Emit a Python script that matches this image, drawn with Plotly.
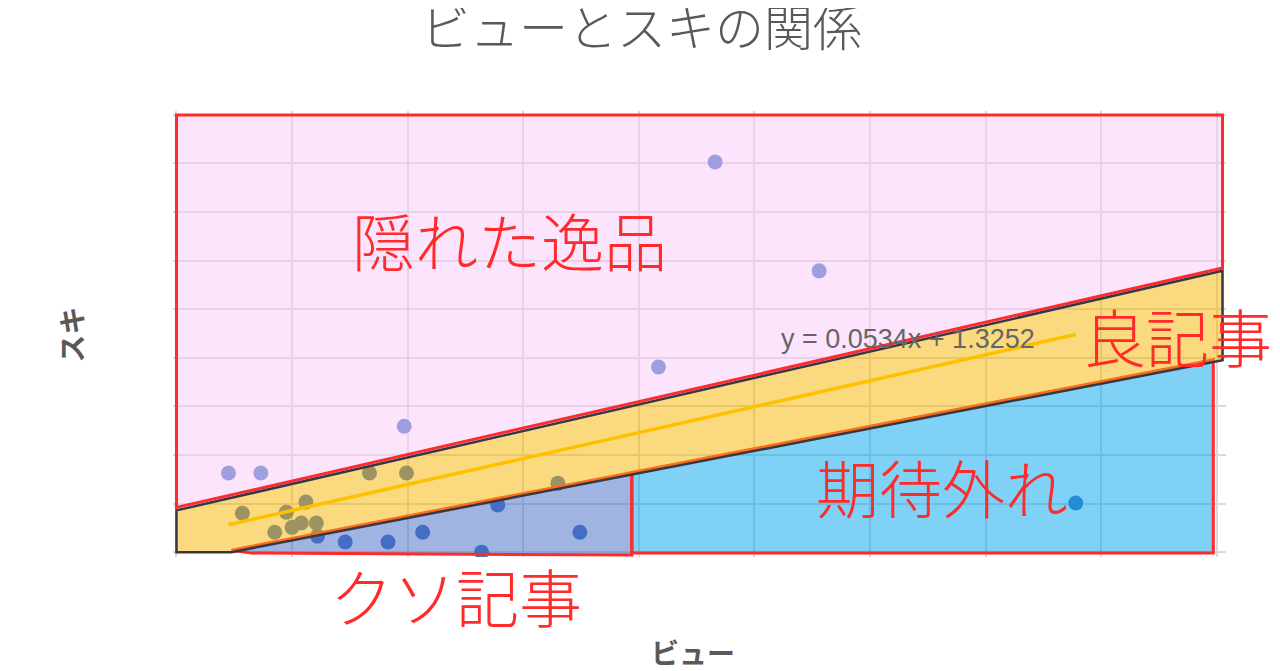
import numpy as np
import plotly.graph_objects as go

# scatter: views vs likes
VIEWS = [46.6, 55.6, 41.7, 19.7, 4.5, 7.3, 16.7, 19.9, 33.0, 5.7, 11.2, 9.5,
         10.8, 12.1, 10.0, 8.5, 27.8, 21.3, 14.6, 18.3, 26.4, 34.9, 77.8, 12.2]
SUKI = [9.03, 6.79, 4.81, 3.59, 2.63, 2.63, 2.63, 2.63, 2.42, 1.80, 2.03, 1.82,
        1.60, 1.60, 1.51, 1.41, 1.97, 1.41, 1.21, 1.21, 1.0, 1.41, 2.01, 1.33]
TREND_SLOPE = 0.0534
TREND_INTERCEPT = 1.3252

# hand drawn regions (view, suki vertices)
GEM_X = [0, 90.5, 90.5, 0]
GEM_Y = [10.0, 10.0, 6.85, 1.92]
BAND_X = [0, 90.5, 90.5, 4.76, 0]
BAND_Y = [1.86, 6.79, 4.95, 1.0, 1.0]
TRASH_X = [4.76, 39.4, 39.4, 6.5]
TRASH_Y = [1.04, 2.64, 0.94, 0.98]
MISS_X = [39.4, 89.7, 89.7, 39.4]
MISS_Y = [2.64, 4.96, 0.98, 0.98]

LABELS = ["隠れた逸品", "良記事", "期待外れ", "クソ記事"]
TITLE = "ビューとスキの関係"
X_TITLE = "ビュー"
Y_TITLE = "スキ"

JP = "Noto Sans CJK JP"
GRAY = "#595959"
RED = "#FF2A2A"


def poly(xs, ys):
    p = "M " + " L ".join(f"{x},{y}" for x, y in zip(xs, ys))
    return p + " Z"


fig = go.Figure()
fig.add_trace(go.Scatter(x=VIEWS, y=SUKI, mode="markers",
                         marker=dict(color="#4472C4", size=15), showlegend=False))

# regions, semi transparent on top of the points
fig.add_shape(type="path", path=poly(GEM_X, GEM_Y), layer="above",
              fillcolor="rgba(249,201,249,0.5)", line=dict(color=RED, width=3))
fig.add_shape(type="path", path=poly(TRASH_X, TRASH_Y), layer="above",
              fillcolor="rgba(65,105,195,0.5)", line=dict(color=RED, width=3))
fig.add_shape(type="path", path=poly(MISS_X, MISS_Y), layer="above",
              fillcolor="rgba(0,165,235,0.5)", line=dict(color=RED, width=3))
fig.add_shape(type="path", path=poly(BAND_X, BAND_Y), layer="above",
              fillcolor="rgba(245,180,0,0.5)", line=dict(color="#3B3548", width=2.5))

# linear trendline over the data span
tx = np.array([min(VIEWS), max(VIEWS)])
ty = TREND_SLOPE * tx + TREND_INTERCEPT
fig.add_shape(type="line", x0=tx[0], y0=ty[0], x1=tx[1], y1=ty[1], layer="above",
              line=dict(color="#FFC000", width=3.5))

fig.add_annotation(x=63.3, y=5.39, text=f"y = {TREND_SLOPE}x + {TREND_INTERCEPT}",
                   showarrow=False, font=dict(family="Liberation Sans", size=27, color="#666666"))

lab_font = dict(family=JP, size=63, color=RED, weight=300)
fig.add_annotation(x=28.8, y=7.46, text=LABELS[0], showarrow=False, font=lab_font)
fig.add_annotation(x=86.6, y=5.49, text=LABELS[1], showarrow=False, font=lab_font)
fig.add_annotation(x=66.2, y=2.38, text=LABELS[2], showarrow=False, font=lab_font)
fig.add_annotation(x=24.2, xref="x", y=-0.085, yref="paper", yanchor="middle",
                   text=LABELS[3], showarrow=False, font=lab_font)

fig.add_annotation(x=0.494, y=-0.213, xref="paper", yref="paper", xanchor="center",
                   yanchor="middle", text=X_TITLE, showarrow=False,
                   font=dict(family=JP, size=28, color=GRAY, weight="bold"))
fig.add_annotation(x=-0.0964, y=0.5, xref="paper", yref="paper", xanchor="center",
                   yanchor="middle", text=Y_TITLE, textangle=-90, showarrow=False,
                   font=dict(family=JP, size=28, color=GRAY, weight="bold"))

# faint right frame of the original screenshot
fig.add_shape(type="line", xref="paper", yref="paper", x0=1.0475, x1=1.0475, y0=-0.26, y1=1.25,
              line=dict(color="#DCDCDC", width=2))

# page body adds 8px, so the figure is 8px smaller than the window
fig.update_layout(
    width=1272, height=663,
    margin=dict(l=165, r=54, t=103, b=114),
    paper_bgcolor="white", plot_bgcolor="white",
    title=dict(text=TITLE, x=0.498, xref="container", y=0.968, yref="container",
               yanchor="middle", xanchor="center",
               font=dict(family=JP, size=49, color=GRAY, weight=300)),
)
fig.update_xaxes(range=[-0.3, 90.8], dtick=10, tick0=0, showticklabels=False, ticks="",
                 showgrid=True, gridcolor="#D9D9D9", gridwidth=1.5, zeroline=False, showline=False)
fig.update_yaxes(range=[0.9, 10.08], dtick=1, tick0=0, showticklabels=False, ticks="",
                 showgrid=True, gridcolor="#D9D9D9", gridwidth=1.5, zeroline=False, showline=False)

fig.write_html("out.html")
